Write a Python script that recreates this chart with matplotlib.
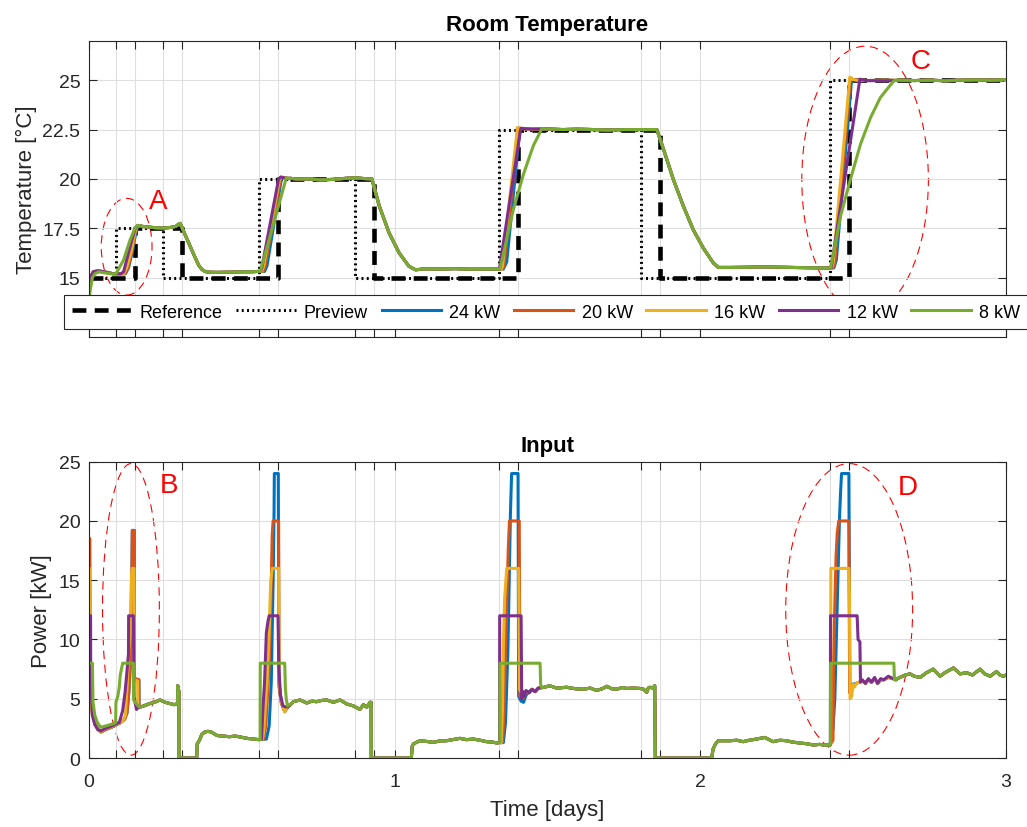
import numpy as np
import matplotlib.pyplot as plt
from matplotlib.patches import Ellipse

plt.rcParams['font.family'] = ['Liberation Sans', 'DejaVu Sans']
plt.rcParams['lines.scale_dashes'] = False

# --- setpoints (time in days, temperature in degC) ---
ref_t = [0, 0.151, 0.305, 0.619, 0.933, 1.404, 1.868, 2.486, 3.0]
ref_T = [15, 17.5, 15, 20, 15, 22.5, 15, 25, 25]
prev_t = [0, 0.089, 0.243, 0.557, 0.871, 1.342, 1.806, 2.424, 3.0]
prev_T = [15, 17.5, 15, 20, 15, 22.5, 15, 25, 25]

day_ticks = [0, 1, 2, 3]
switch_days = sorted(ref_t[1:-1] + prev_t[1:-1])

names = ['24 kW', '20 kW', '16 kW', '12 kW', '8 kW']
colors = ['#0072BD', '#D95319', '#EDB120', '#7E2F8E', '#77AC30']

# --- room temperature: parts where all controllers coincide ---
T_shared = [(0.175, 17.6), (0.19, 17.57), (0.22, 17.53), (0.25, 17.52), (0.27, 17.55),
            (0.285, 17.6), (0.295, 17.72), (0.299, 17.75), (0.31, 17.36), (0.33, 16.65),
            (0.35, 15.95), (0.36, 15.62), (0.37, 15.42), (0.38, 15.32), (0.39, 15.28),
            (0.42, 15.27), (0.46, 15.28), (0.50, 15.3), (0.53, 15.3), (0.556, 15.32),
            (0.66, 20.03), (0.68, 20.0), (0.72, 20.0), (0.76, 19.95), (0.80, 19.98),
            (0.84, 20.03), (0.87, 20.06), (0.90, 20.02), (0.926, 20.0), (0.95, 18.64),
            (0.982, 17.28), (1.015, 16.26), (1.047, 15.58), (1.069, 15.4), (1.10, 15.45),
            (1.15, 15.44), (1.20, 15.46), (1.25, 15.43), (1.30, 15.44), (1.341, 15.44),
            (1.50, 22.53), (1.55, 22.5), (1.60, 22.52), (1.65, 22.5), (1.70, 22.48),
            (1.75, 22.5), (1.80, 22.5), (1.858, 22.5), (1.88, 21.49), (1.912, 19.97),
            (1.945, 18.61), (1.977, 17.43), (2.010, 16.5), (2.043, 15.74), (2.059, 15.52),
            (2.10, 15.52), (2.15, 15.53), (2.20, 15.55), (2.30, 15.52), (2.38, 15.5),
            (2.423, 15.49),
            (2.66, 25.0), (2.70, 24.98), (2.75, 25.0), (2.80, 24.97), (2.85, 25.0),
            (2.90, 25.02), (2.95, 25.0), (3.0, 25.03)]

# rises, one list per controller
T24 = [(0, 13.0), (0.003, 14.6), (0.008, 15.1), (0.015, 15.3), (0.03, 15.35), (0.05, 15.3),
       (0.08, 15.2), (0.12, 15.2), (0.13, 15.5), (0.144, 16.4), (0.154, 17.3), (0.161, 17.6),
       (0.168, 17.63),
       (0.557, 15.32), (0.575, 15.32), (0.583, 15.6), (0.630, 20.0), (0.636, 20.06), (0.65, 20.03),
       (1.342, 15.44), (1.356, 15.44), (1.367, 15.8), (1.410, 22.55), (1.42, 22.56), (1.45, 22.52),
       (1.48, 22.53),
       (2.424, 15.49), (2.437, 15.5), (2.445, 15.9), (2.495, 25.05), (2.51, 25.0), (2.55, 24.98),
       (2.6, 25.0), (2.64, 24.99)]
T20 = [(0, 13.0), (0.003, 14.6), (0.008, 15.1), (0.015, 15.3), (0.03, 15.35), (0.05, 15.3),
       (0.08, 15.2), (0.118, 15.2), (0.128, 15.5), (0.142, 16.4), (0.152, 17.3), (0.159, 17.6),
       (0.168, 17.63),
       (0.557, 15.32), (0.570, 15.32), (0.577, 15.6), (0.627, 20.0), (0.633, 20.08), (0.65, 20.03),
       (1.342, 15.44), (1.353, 15.44), (1.358, 15.6), (1.406, 22.58), (1.42, 22.55), (1.45, 22.52),
       (1.48, 22.53),
       (2.424, 15.49), (2.434, 15.5), (2.44, 15.8), (2.491, 25.12), (2.50, 25.02), (2.55, 24.98),
       (2.6, 25.0), (2.64, 24.99)]
T16 = [(0, 13.0), (0.003, 14.6), (0.008, 15.1), (0.015, 15.3), (0.03, 15.35), (0.05, 15.3),
       (0.08, 15.2), (0.114, 15.2), (0.124, 15.5), (0.14, 16.4), (0.151, 17.3), (0.158, 17.62),
       (0.168, 17.63),
       (0.557, 15.32), (0.566, 15.32), (0.572, 15.6), (0.624, 20.0), (0.63, 20.08), (0.65, 20.03),
       (1.342, 15.44), (1.349, 15.44), (1.353, 15.6), (1.402, 22.6), (1.41, 22.55), (1.45, 22.52),
       (1.48, 22.53),
       (2.424, 15.49), (2.430, 15.5), (2.435, 15.8), (2.489, 25.15), (2.495, 25.05), (2.51, 25.0),
       (2.55, 24.98), (2.6, 25.0), (2.64, 24.99)]
T12 = [(0, 13.0), (0.003, 14.6), (0.008, 15.1), (0.015, 15.3), (0.03, 15.35), (0.05, 15.3),
       (0.08, 15.2), (0.105, 15.2), (0.114, 15.3), (0.124, 15.9), (0.14, 16.85), (0.151, 17.45),
       (0.16, 17.65), (0.168, 17.63),
       (0.557, 15.32), (0.562, 15.32), (0.566, 15.5), (0.621, 20.0), (0.628, 20.1), (0.64, 20.05),
       (0.65, 20.03),
       (1.342, 15.44), (1.343, 15.44), (1.413, 22.56), (1.42, 22.55), (1.45, 22.52), (1.48, 22.53),
       (2.424, 15.49), (2.428, 15.5), (2.522, 25.05), (2.54, 24.98), (2.6, 24.97), (2.64, 24.98)]
T8 = [(0, 13.0), (0.004, 14.3), (0.012, 15.0), (0.02, 15.2), (0.033, 15.3), (0.05, 15.25),
      (0.071, 15.2), (0.089, 15.2), (0.114, 15.9), (0.135, 16.9), (0.151, 17.5), (0.16, 17.65),
      (0.168, 17.63),
      (0.557, 15.32), (0.561, 15.32), (0.646, 20.05), (0.65, 20.03),
      (1.342, 15.44), (1.345, 15.44), (1.389, 18.47), (1.422, 20.25), (1.454, 21.68),
      (1.482, 22.55), (1.49, 22.53),
      (2.424, 15.49), (2.426, 15.5), (2.459, 18.13), (2.491, 19.98), (2.524, 21.76),
      (2.557, 23.11), (2.589, 24.12), (2.633, 24.97), (2.645, 25.0)]

# --- heating power [kW]: parts where all controllers coincide ---
P_shared = [(0.168, 4.3), (0.18, 4.4), (0.20, 4.6), (0.215, 4.7), (0.233, 4.9), (0.25, 4.7),
            (0.265, 4.6), (0.28, 4.5), (0.2905, 4.6), (0.291, 6.1), (0.295, 5.6), (0.2955, 0.0),
            (0.353, 0.0), (0.355, 1.2), (0.362, 1.5), (0.37, 2.0), (0.38, 2.2), (0.39, 2.25),
            (0.40, 2.2), (0.42, 1.9), (0.44, 1.85), (0.46, 1.8), (0.48, 1.85), (0.50, 1.75),
            (0.52, 1.65), (0.54, 1.6), (0.556, 1.55),
            (0.66, 4.5), (0.669, 4.75), (0.691, 4.9), (0.713, 4.64), (0.73, 4.8), (0.745, 4.75),
            (0.76, 4.85), (0.778, 4.9), (0.80, 4.7), (0.822, 4.9), (0.844, 4.56), (0.865, 4.4),
            (0.887, 4.1), (0.898, 4.5), (0.909, 4.3), (0.92, 4.7), (0.9235, 4.7), (0.924, 0.0),
            (1.055, 0.0), (1.058, 1.0), (1.062, 1.2), (1.083, 1.46), (1.105, 1.4), (1.126, 1.32),
            (1.15, 1.45), (1.17, 1.46), (1.19, 1.55), (1.214, 1.66), (1.235, 1.55), (1.258, 1.6),
            (1.28, 1.5), (1.301, 1.38), (1.32, 1.35), (1.334, 1.27), (1.341, 1.3),
            (1.49, 5.97), (1.508, 6.1), (1.53, 5.9), (1.563, 5.97), (1.59, 5.85), (1.617, 5.8),
            (1.64, 5.9), (1.661, 5.7), (1.68, 5.85), (1.694, 6.05), (1.71, 5.85), (1.727, 5.8),
            (1.745, 5.95), (1.759, 5.87), (1.78, 5.9), (1.803, 5.87), (1.815, 5.8), (1.825, 5.54),
            (1.83, 5.9), (1.836, 5.97), (1.845, 5.9), (1.851, 6.1), (1.853, 0.0),
            (2.037, 0.0), (2.042, 0.76), (2.05, 1.2), (2.059, 1.46), (2.097, 1.46), (2.12, 1.5),
            (2.14, 1.38), (2.16, 1.5), (2.184, 1.6), (2.211, 1.74), (2.238, 1.38), (2.26, 1.5),
            (2.282, 1.46), (2.30, 1.35), (2.325, 1.27), (2.35, 1.2), (2.369, 1.1), (2.39, 1.15),
            (2.41, 1.08), (2.423, 1.1),
            (2.645, 6.7), (2.653, 6.8), (2.67, 7.0), (2.686, 7.1), (2.70, 6.9), (2.719, 6.8),
            (2.74, 7.2), (2.762, 7.5), (2.784, 6.9), (2.80, 7.2), (2.828, 7.6), (2.85, 7.1),
            (2.871, 7.2), (2.89, 7.0), (2.915, 7.5), (2.93, 7.1), (2.948, 6.9), (2.969, 7.3),
            (2.98, 7.0), (2.991, 6.9), (3.0, 7.0)]
# settling after the last peak, shared by 24/20/16 kW
P_settle = [(2.51, 6.3), (2.52, 6.4), (2.53, 6.5), (2.54, 6.3), (2.55, 6.6), (2.56, 6.4),
            (2.57, 6.7), (2.58, 6.3), (2.59, 6.6), (2.60, 6.6), (2.615, 6.8), (2.63, 6.7),
            (2.64, 6.6)]

P24 = [(0, 18.5), (0.003, 18.5), (0.004, 9.0), (0.007, 5.5), (0.012, 3.8), (0.02, 3.0),
       (0.03, 2.4), (0.04, 2.2), (0.055, 2.4), (0.075, 2.6), (0.09, 2.8), (0.105, 3.0),
       (0.118, 3.3), (0.125, 3.8), (0.131, 5.5), (0.136, 8.0), (0.139, 12.0), (0.141, 14.8),
       (0.1425, 19.2), (0.149, 19.2), (0.1495, 6.7), (0.164, 6.6), (0.1645, 4.4),
       (0.557, 1.55), (0.581, 1.6), (0.59, 2.7), (0.597, 6.4), (0.603, 14.8), (0.606, 20.5),
       (0.607, 24.0), (0.620, 24.0), (0.6215, 6.4), (0.63, 4.7), (0.641, 3.9), (0.648, 4.2),
       (0.655, 4.4),
       (1.342, 1.3), (1.356, 1.3), (1.363, 3.0), (1.371, 9.2), (1.375, 14.8), (1.379, 20.5),
       (1.383, 24.0), (1.404, 24.0), (1.406, 5.2), (1.414, 4.8), (1.422, 4.7), (1.43, 5.3),
       (1.44, 5.6), (1.45, 5.8), (1.46, 5.6), (1.47, 5.9), (1.485, 5.95),
       (2.424, 1.1), (2.434, 2.5), (2.44, 5.0), (2.445, 10.0), (2.45, 15.0), (2.455, 20.0),
       (2.459, 22.5), (2.462, 24.0), (2.486, 24.0), (2.489, 6.0), (2.495, 6.2)] + P_settle
P20 = [(0, 18.5), (0.003, 18.5), (0.004, 9.0), (0.007, 5.5), (0.012, 3.8), (0.02, 3.0),
       (0.03, 2.4), (0.04, 2.2), (0.055, 2.4), (0.075, 2.6), (0.09, 2.8), (0.105, 3.0),
       (0.118, 3.3), (0.125, 3.8), (0.131, 5.5), (0.136, 8.0), (0.139, 12.0), (0.141, 14.8),
       (0.1425, 19.2), (0.149, 19.2), (0.1495, 6.7), (0.164, 6.6), (0.1645, 4.4),
       (0.557, 1.55), (0.572, 1.6), (0.579, 2.7), (0.59, 7.8), (0.597, 14.8), (0.6, 18.8),
       (0.603, 20.0), (0.621, 20.0), (0.6225, 6.0), (0.63, 4.6), (0.64, 4.0), (0.648, 4.2),
       (0.655, 4.4),
       (1.342, 1.3), (1.353, 1.3), (1.358, 3.6), (1.363, 9.2), (1.369, 14.8), (1.372, 17.6),
       (1.376, 20.0), (1.408, 20.0), (1.41, 5.2), (1.42, 5.0), (1.43, 5.6), (1.44, 5.5),
       (1.45, 5.8), (1.46, 5.6), (1.47, 5.9), (1.485, 5.95),
       (2.424, 1.1), (2.434, 1.5), (2.436, 8.0), (2.44, 13.0), (2.444, 17.0), (2.448, 19.0),
       (2.453, 20.0), (2.486, 20.0), (2.4885, 5.5), (2.495, 6.0)] + P_settle
P16 = [(0, 16.0), (0.003, 16.0), (0.0035, 8.0), (0.007, 5.0), (0.012, 3.6), (0.02, 2.9),
       (0.03, 2.4), (0.04, 2.25), (0.055, 2.45), (0.075, 2.65), (0.09, 2.85), (0.105, 3.0),
       (0.115, 3.3), (0.12, 3.6), (0.126, 6.4), (0.131, 9.0), (0.135, 10.3), (0.138, 13.7),
       (0.140, 15.4), (0.142, 16.0), (0.148, 16.0), (0.1485, 6.6), (0.16, 6.5), (0.1605, 4.4),
       (0.165, 4.3),
       (0.557, 1.55), (0.568, 1.6), (0.572, 2.2), (0.583, 6.4), (0.59, 10.6), (0.595, 14.8),
       (0.6, 16.0), (0.621, 16.0), (0.6225, 6.4), (0.63, 4.7), (0.641, 3.9), (0.648, 4.3),
       (0.655, 4.4),
       (1.342, 1.3), (1.349, 1.3), (1.353, 4.1), (1.356, 9.2), (1.36, 13.4), (1.367, 16.0),
       (1.406, 16.0), (1.409, 5.8), (1.422, 5.2), (1.43, 5.6), (1.44, 5.5), (1.45, 5.8),
       (1.46, 5.6), (1.47, 5.9), (1.485, 5.95),
       (2.424, 1.1), (2.4265, 1.1), (2.427, 16.0), (2.486, 16.0), (2.488, 13.5), (2.49, 5.0),
       (2.495, 5.2), (2.50, 6.2), (2.505, 6.0)] + P_settle
P12 = [(0, 12.0), (0.006, 12.0), (0.0065, 6.4), (0.012, 3.6), (0.02, 2.8), (0.03, 2.4),
       (0.04, 2.3), (0.055, 2.5), (0.075, 2.7), (0.09, 2.9), (0.1, 3.0), (0.111, 4.0),
       (0.119, 5.6), (0.124, 7.0), (0.13, 8.8), (0.1305, 12.0), (0.146, 12.0), (0.148, 5.2),
       (0.156, 4.1), (0.165, 4.3),
       (0.557, 1.55), (0.565, 1.6), (0.57, 4.3), (0.575, 6.4), (0.581, 10.6), (0.586, 11.5),
       (0.59, 12.0), (0.619, 12.0), (0.6215, 7.8), (0.627, 5.3), (0.635, 4.4), (0.646, 4.3),
       (0.655, 4.4),
       (1.342, 1.3), (1.3435, 1.3), (1.344, 12.0), (1.414, 12.0), (1.416, 5.0), (1.42, 5.6),
       (1.425, 5.2), (1.43, 5.7), (1.44, 5.5), (1.45, 5.8), (1.46, 5.6), (1.47, 5.9),
       (1.485, 5.95),
       (2.424, 1.1), (2.4255, 1.1), (2.426, 12.0), (2.513, 12.0), (2.516, 10.0), (2.522, 9.8),
       (2.524, 6.4), (2.53, 6.6), (2.54, 6.3), (2.55, 6.7), (2.56, 6.4), (2.57, 6.8),
       (2.58, 6.3), (2.59, 6.7), (2.60, 6.6), (2.615, 6.9), (2.63, 6.7), (2.64, 6.6)]
P8 = [(0, 8.0), (0.012, 8.0), (0.014, 4.7), (0.02, 3.6), (0.028, 3.0), (0.039, 2.6),
      (0.055, 2.7), (0.081, 2.9), (0.088, 3.0), (0.089, 4.7), (0.095, 5.2), (0.1, 6.0),
      (0.103, 7.0), (0.108, 7.6), (0.111, 8.0), (0.146, 8.0), (0.147, 4.9), (0.155, 4.6),
      (0.165, 4.3),
      (0.557, 1.55), (0.5605, 1.55), (0.561, 8.0), (0.641, 8.0), (0.643, 6.0), (0.646, 5.0),
      (0.65, 4.4), (0.655, 4.5),
      (1.342, 1.3), (1.3445, 1.3), (1.345, 8.0), (1.476, 8.0), (1.478, 6.2), (1.482, 5.9),
      (1.485, 5.95),
      (2.424, 1.1), (2.4255, 1.1), (2.426, 8.0), (2.633, 8.0), (2.635, 6.6), (2.64, 6.6)]

temps = [T24, T20, T16, T12, T8]
powers = [P24, P20, P16, P12, P8]


def merge(own, shared):
    pts = np.array(sorted(own + shared, key=lambda p: p[0]))
    return pts[:, 0], pts[:, 1]


fig = plt.figure(figsize=(10.27, 8.28), dpi=100)
ax1 = fig.add_axes([0.0864, 0.5918, 0.8932, 0.3579])
ax2 = fig.add_axes([0.0864, 0.0833, 0.8932, 0.3579])

ax1.plot(ref_t, ref_T, drawstyle='steps-post', color='k', lw=3.3, dashes=(10, 6),
         label='Reference')
ax1.plot(prev_t, prev_T, drawstyle='steps-post', color='k', lw=2.2, dashes=(1.4, 2.4),
         label='Preview')
for own_T, own_P, name, col in zip(temps, powers, names, colors):
    t, T = merge(own_T, T_shared)
    ax1.plot(t, T, color=col, lw=2.2, label=name)
    t, P = merge(own_P, P_shared)
    ax2.plot(t, P, color=col, lw=2.2)

all_ticks = sorted(day_ticks + switch_days)
for ax in (ax1, ax2):
    ax.set_xlim(0, 3)
    ax.set_xticks(all_ticks)
    ax.grid(True, color='#dfdfdf', lw=0.8)
    ax.tick_params(direction='in', top=True, right=True, length=6, width=0.8,
                   color='#262626', labelcolor='#262626', labelsize=14)
    ax.tick_params(axis='x', pad=11)
    ax.tick_params(axis='y', pad=6)
    for s in ax.spines.values():
        s.set_color('#262626')
        s.set_linewidth(0.8)

ax1.set_xticklabels(['' for v in all_ticks])
ax2.set_xticklabels(['%g' % v if v in day_ticks else '' for v in all_ticks])

ax1.set_ylim(12, 27)
ax1.set_yticks([15, 17.5, 20, 22.5, 25])
ax1.set_yticklabels(['%g' % v for v in [15, 17.5, 20, 22.5, 25]])
ax2.set_ylim(0, 25)
ax2.set_yticks([0, 5, 10, 15, 20, 25])

ax1.set_title('Room Temperature', fontsize=16, fontweight='bold', pad=7.5)
ax2.set_title('Input', fontsize=16, fontweight='bold', pad=7.5)
ax1.set_ylabel('Temperature [°C]', fontsize=16, color='#262626', labelpad=4)
ax2.set_ylabel('Power [kW]', fontsize=16, color='#262626', labelpad=5)
ax2.set_xlabel('Time [days]', fontsize=16, color='#262626', labelpad=6)

# highlighted regions
ell = dict(fill=False, edgecolor='red', lw=0.8, linestyle=(0, (6, 4)))
ax1.add_patch(Ellipse((0.124, 16.57), 0.166, 4.9, **ell))
ax1.add_patch(Ellipse((2.539, 19.97), 0.414, 13.5, **ell))
ax2.add_patch(Ellipse((0.138, 12.54), 0.186, 24.6, **ell))
ax2.add_patch(Ellipse((2.487, 12.54), 0.415, 24.6, **ell))
ax1.text(0.227, 18.9, 'A', color='red', fontsize=20, ha='center', va='center')
ax1.text(2.721, 25.98, 'C', color='red', fontsize=20, ha='center', va='center')
ax2.text(0.264, 23.0, 'B', color='red', fontsize=20, ha='center', va='center')
ax2.text(2.677, 22.9, 'D', color='red', fontsize=20, ha='center', va='center')

leg = ax1.legend(loc='center', bbox_to_anchor=(546 / 1027, 1 - 313 / 828),
                 bbox_transform=fig.transFigure, ncol=7, fontsize=13, fancybox=False,
                 edgecolor='#262626', framealpha=1, handlelength=3.3, handletextpad=0.45,
                 columnspacing=0.75, borderpad=0.45, borderaxespad=0)
leg.get_frame().set_linewidth(0.8)

fig.savefig('out.png', dpi=100)
